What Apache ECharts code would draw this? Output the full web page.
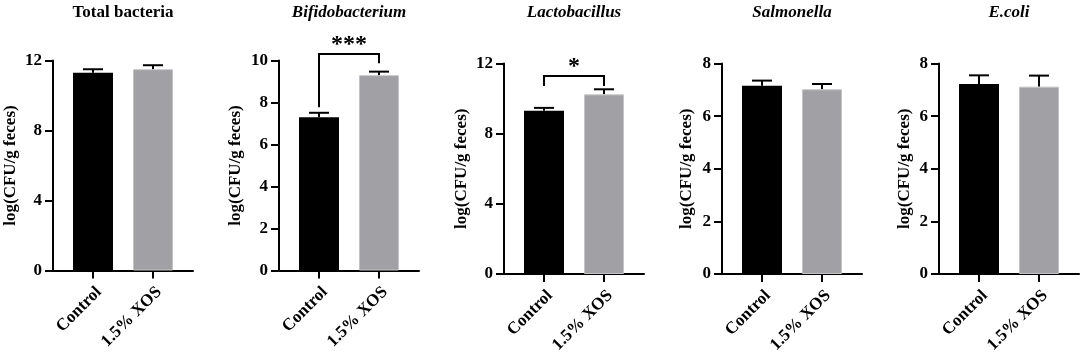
<!DOCTYPE html>
<html>
<head>
<meta charset="utf-8">
<script src="https://cdn.jsdelivr.net/npm/echarts@6/dist/echarts.min.js"></script>
<style>
  html, body { margin: 0; padding: 0; background: #fff; }
  #main { width: 1084px; height: 352px; }
</style>
</head>
<body>
<div id="main"></div>
<script>
// 数据
var panelTitles = ['Total bacteria', 'Bifidobacterium', 'Lactobacillus', 'Salmonella', 'E.coli'];
var groups = ['Control', '1.5% XOS'];
var controlMean = [11.3, 7.3, 9.3, 7.15, 7.22];
var controlErr = [0.2, 0.21, 0.17, 0.2, 0.33];
var xosMean = [11.5, 9.3, 10.24, 7.02, 7.12];
var xosErr = [0.23, 0.17, 0.29, 0.2, 0.42];
var yMax = [12, 10, 12, 8, 8];
var yStep = [4, 2, 4, 2, 2];
// 显著性标记
var sigPanel = [1, 2];
var sigLabel = ['***', '*'];
var sigTop = [10.31, 11.29];
var sigLeftEnd = [7.77, 10.72];
var sigRightEnd = [9.87, 10.72];

// 布局
var gridLeft = [53, 279, 504, 722, 939];
var gridTop = [60.5, 60.5, 63.5, 63.5, 63.5];
var gridHeight = [210, 210, 210.5, 210.5, 210.5];
var nameGap = [34, 35, 34, 27, 26];
var barPos = [2, 5];

var font = '"Liberation Serif", "Times New Roman", serif';
var chart = echarts.init(document.getElementById('main'));

var grids = [], xAxes = [], yAxes = [], titles = [], series = [];

for (var i = 0; i < panelTitles.length; i++) {
    grids.push({
        left: gridLeft[i], top: gridTop[i], width: 140, height: gridHeight[i],
        containLabel: false, outerBoundsMode: 'none'
    });
    titles.push({
        text: panelTitles[i],
        left: gridLeft[i] + 70,
        top: 4,
        padding: 0,
        textAlign: 'center',
        textStyle: {
            fontFamily: font, fontSize: 17, fontWeight: 'bold',
            fontStyle: i === 0 ? 'normal' : 'italic', color: '#000'
        }
    });
    xAxes.push({
        type: 'value', gridIndex: i, min: 0, max: 7,
        splitLine: { show: false },
        axisLine: { show: true, lineStyle: { color: '#000', width: 2 } },
        axisTick: { show: true, customValues: barPos, length: 8, lineStyle: { color: '#000', width: 2 } },
        axisLabel: {
            customValues: barPos, rotate: 45, margin: 13, verticalAlign: 'top',
            fontFamily: font, fontSize: 17, fontWeight: 'bold', color: '#000',
            formatter: function (v) { return v === barPos[0] ? groups[0] : groups[1]; }
        }
    });
    yAxes.push({
        type: 'value', gridIndex: i, min: 0, max: yMax[i], interval: yStep[i],
        name: 'log(CFU/g feces)', nameLocation: 'middle', nameGap: nameGap[i],
        nameTextStyle: { fontFamily: font, fontSize: 17, fontWeight: 'bold', color: '#000' },
        splitLine: { show: false },
        axisLine: { show: true, lineStyle: { color: '#000', width: 2 } },
        axisTick: { show: true, length: 8, lineStyle: { color: '#000', width: 2 } },
        axisLabel: { margin: 11, fontFamily: font, fontSize: 17, fontWeight: 'bold', color: '#000' }
    });
    series.push({
        type: 'bar', xAxisIndex: i, yAxisIndex: i, barWidth: 40,
        data: [
            { value: [barPos[0], controlMean[i]], itemStyle: { color: '#000' } },
            { value: [barPos[1], xosMean[i]], itemStyle: { color: '#a1a1a5', borderColor: '#c4c4c6', borderWidth: 1 } }
        ],
        silent: true
    });
    // 误差线
    series.push({
        type: 'custom', xAxisIndex: i, yAxisIndex: i, clip: false, silent: true,
        data: [[barPos[0], controlMean[i], controlErr[i]], [barPos[1], xosMean[i], xosErr[i]]],
        renderItem: function (params, api) {
            var base = api.coord([api.value(0), api.value(1)]);
            var top = api.coord([api.value(0), api.value(1) + api.value(2)]);
            var st = { stroke: '#000', lineWidth: 2 };
            return {
                type: 'group',
                children: [
                    { type: 'line', shape: { x1: base[0], y1: base[1], x2: top[0], y2: top[1] }, style: st },
                    { type: 'line', shape: { x1: top[0] - 10, y1: top[1], x2: top[0] + 10, y2: top[1] }, style: st }
                ]
            };
        }
    });
}

// 显著性括号
for (var k = 0; k < sigPanel.length; k++) {
    (function (k) {
        var p = sigPanel[k];
        series.push({
            type: 'custom', xAxisIndex: p, yAxisIndex: p, clip: false, silent: true,
            encode: { x: [0, 1], y: [2, 3, 4] },
            data: [[barPos[0], barPos[1], sigTop[k], sigLeftEnd[k], sigRightEnd[k]]],
            renderItem: function (params, api) {
                var a = api.coord([api.value(0), api.value(3)]);
                var b = api.coord([api.value(0), api.value(2)]);
                var c = api.coord([api.value(1), api.value(2)]);
                var d = api.coord([api.value(1), api.value(4)]);
                return {
                    type: 'group',
                    children: [
                        { type: 'polyline', shape: { points: [a, b, c, d] }, style: { stroke: '#000', lineWidth: 2, fill: null } },
                        { type: 'text', x: (b[0] + c[0]) / 2, y: b[1] + 3,
                          style: { text: sigLabel[k], font: 'bold 24px ' + font, fill: '#000',
                                   textAlign: 'center', textVerticalAlign: 'bottom' } }
                    ]
                };
            }
        });
    })(k);
}

chart.setOption({
    animation: false,
    backgroundColor: '#fff',
    title: titles,
    grid: grids,
    xAxis: xAxes,
    yAxis: yAxes,
    series: series
});
</script>
</body>
</html>
